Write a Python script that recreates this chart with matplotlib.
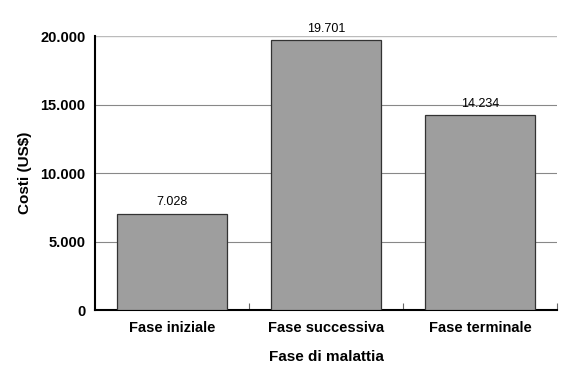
import numpy as np
from matplotlib import pyplot as plt

categories = ['Fase iniziale', 'Fase successiva', 'Fase terminale']
costs = [7028, 19701, 14234]
yticks = [0, 5000, 10000, 15000, 20000]
ytick_labels = ['0', '5.000', '10.000', '15.000', '20.000']

plt.rcParams['font.family'] = ['Liberation Sans', 'DejaVu Sans']

fig = plt.figure(figsize=(5.76, 3.92), dpi=100)
ax = fig.add_axes([0.165, 0.209, 0.802, 0.699])

x = np.arange(len(categories))
ax.bar(x, costs, width=0.72, color='#9e9e9e', edgecolor='#333333',
       linewidth=0.9, zorder=3)

for xi, v in zip(x, costs):
    label = f'{v:,}'.replace(',', '.')
    ax.text(xi, v + 400, label, ha='center', va='bottom', fontsize=9)

ax.set_ylim(0, 20000)
ax.set_xlim(-0.5, len(categories) - 0.5)
ax.set_yticks(yticks)
ax.set_yticklabels(ytick_labels, fontsize=10.5, fontweight='bold')
ax.tick_params(axis='y', length=0, pad=7)

# gridlines
for t in yticks[1:]:
    ax.axhline(t, color='#bbbbbb' if t == 20000 else '#888888',
               linewidth=1.0 if t == 20000 else 0.8, zorder=1)

# category labels, with boundary tick marks pointing inward
ax.set_xticks(x)
ax.set_xticklabels(categories, fontsize=10.5, fontweight='bold')
ax.tick_params(axis='x', length=0, pad=8)
ax.set_xticks([0.5, 1.5, 2.5], minor=True)
ax.tick_params(axis='x', which='minor', direction='in', length=5,
               width=0.8, color='#666666')

ax.set_ylabel('Costi (US$)', fontsize=11, fontweight='bold', labelpad=6)
ax.set_xlabel('Fase di malattia', fontsize=11, fontweight='bold', labelpad=11)

ax.spines['top'].set_visible(False)
ax.spines['right'].set_visible(False)
ax.spines['left'].set_linewidth(1.5)
ax.spines['bottom'].set_linewidth(1.5)

fig.savefig('out.png', dpi=100)
